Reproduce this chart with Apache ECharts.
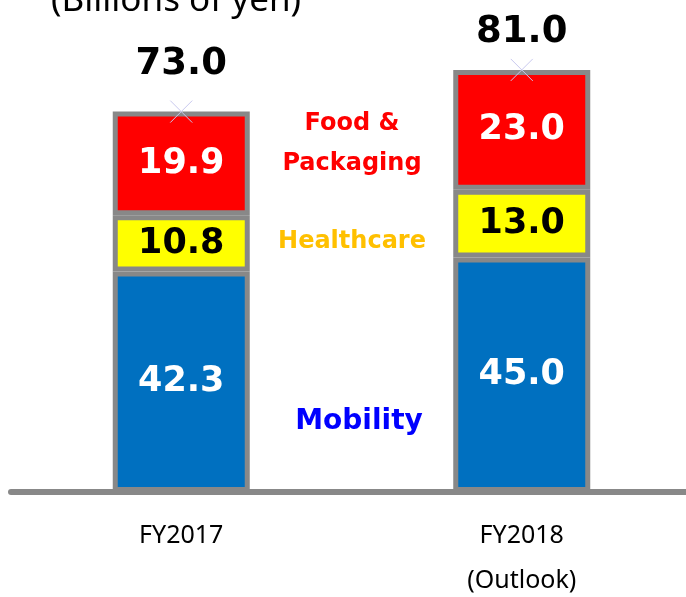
<!DOCTYPE html>
<html>
<head>
<meta charset="utf-8">
<script src="https://cdn.jsdelivr.net/npm/echarts@6/dist/echarts.min.js"></script>
<style>
  html, body { margin: 0; padding: 0; background: #fff; }
  #chart { width: 686px; height: 597px; }
</style>
</head>
<body>
<div id="chart"></div>
<script>
var categories = ["FY2017", "FY2018\n(Outlook)"];
var mobility = [42.3, 45.0];
var healthcare = [10.8, 13.0];
var foodPackaging = [19.9, 23.0];
var totals = [73.0, 81.0];

var valueFont = "DejaVu Sans";
var border = { borderColor: "#888888", borderWidth: 5 };

function segment(name, data, color, textColor) {
  return {
    name: name,
    type: "bar",
    stack: "total",
    barWidth: 137,
    data: data,
    itemStyle: Object.assign({ color: color }, border),
    label: {
      show: true,
      position: "inside",
      formatter: function (p) { return p.value.toFixed(1); },
      color: textColor,
      fontFamily: valueFont,
      fontWeight: "bold",
      fontSize: 35
    }
  };
}

// the total labels do not sit at the same height above the bars
var totalLabelGap = [15, 6];

var option = {
  animation: false,
  grid: { left: 11, width: 681, top: 23, height: 469, outerBoundsMode: "none" },
  graphic: [
    {
      type: "text", x: 176, y: -16,
      style: {
        text: "(Billions of yen)", fontFamily: "Noto Sans", fontSize: 35,
        fill: "#000", align: "center"
      }
    },
    {
      type: "text", x: 352, y: 144,
      style: {
        text: "Food &\nPackaging", fill: "#FF0000", fontFamily: valueFont, fontWeight: "bold",
        fontSize: 24, lineHeight: 40, align: "center", verticalAlign: "middle"
      }
    },
    {
      type: "text", x: 352, y: 242,
      style: {
        text: "Healthcare", fill: "#FFC000", fontFamily: valueFont, fontWeight: "bold",
        fontSize: 24, align: "center", verticalAlign: "middle"
      }
    },
    {
      type: "text", x: 359, y: 422,
      style: {
        text: "Mobility", fill: "#0000FF", fontFamily: valueFont, fontWeight: "bold",
        fontSize: 28, align: "center", verticalAlign: "middle"
      }
    }
  ],
  xAxis: {
    type: "category",
    data: categories,
    offset: 2,
    axisLine: { lineStyle: { color: "#888888", width: 6 } },
    axisTick: { show: false },
    axisLabel: {
      margin: 19,
      color: "#000",
      fontFamily: "Noto Sans",
      fontSize: 25,
      lineHeight: 45
    }
  },
  yAxis: { type: "value", min: 0, max: 90, show: false },
  series: [
    segment("Mobility", mobility, "#0070C0", "#FFFFFF"),
    segment("Healthcare", healthcare, "#FFFF00", "#000000"),
    segment("Food & Packaging", foodPackaging, "#FF0000", "#FFFFFF"),
    {
      name: "Total",
      type: "scatter",
      data: totals.map(function (v, i) {
        return { value: v, label: { distance: totalLabelGap[i] } };
      }),
      symbol: "path://M0,0L10,10M10,0L0,10",
      symbolSize: [22, 22],
      itemStyle: { color: "none", borderColor: "#c8c8ee", borderWidth: 1, opacity: 1 },
      z: 5,
      label: {
        show: true,
        position: "top",
        formatter: function (p) { return p.value.toFixed(1); },
        color: "#000",
        opacity: 1,
        fontFamily: valueFont,
        fontWeight: "bold",
        fontSize: 37
      }
    }
  ]
};

var myChart = echarts.init(document.getElementById("chart"));
myChart.setOption(option);
</script>
</body>
</html>
